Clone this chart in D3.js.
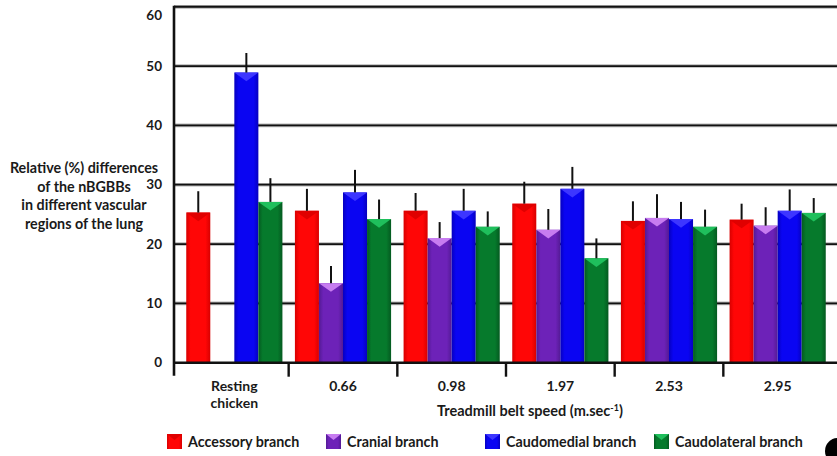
<!DOCTYPE html>
<html>
<head>
<meta charset="utf-8">
<script src="https://cdn.jsdelivr.net/npm/d3@7"></script>
<style>
  html, body { margin: 0; padding: 0; background: #fff; }
  svg { display: block; }
  text { font-family: Lato, "Open Sans", sans-serif; font-weight: 700; fill: #1a1a1a; }
</style>
</head>
<body>
<svg id="chart" width="837" height="456"></svg>
<script>
// Treadmill belt speeds (first group is the resting bird)
const categories = ["Resting chicken", "0.66", "0.98", "1.97", "2.53", "2.95"];

// Relative (%) differences of the nBGBBs per vascular region, with error bars (+SD)
const accessory       = [25.3, 25.6, 25.6, 26.8, 23.9, 24.1];
const accessoryErr    = [3.6, 3.7, 3.0, 3.7, 3.3, 2.7];
const cranial         = [0, 13.4, 21.0, 22.4, 24.4, 23.1];
const cranialErr      = [0, 2.9, 2.7, 3.5, 4.0, 3.1];
const caudomedial     = [48.9, 28.7, 25.6, 29.3, 24.2, 25.6];
const caudomedialErr  = [3.3, 3.8, 3.7, 3.7, 2.9, 3.6];
const caudolateral    = [27.1, 24.2, 22.9, 17.6, 22.9, 25.25];
const caudolateralErr = [4.0, 3.3, 2.6, 3.35, 2.9, 2.5];

const seriesNames = ["Accessory branch", "Cranial branch", "Caudomedial branch", "Caudolateral branch"];
const yTicks = [0, 10, 20, 30, 40, 50, 60];

// face colour, edge shade, cap triangle colour
const palette = [
  { face: "#ff0606", edge: "#d80000", cap: "#e00000" },
  { face: "#6d22b8", edge: "#531a95", cap: "#c77cf0" },
  { face: "#0a05f2", edge: "#0600c0", cap: "#3d36ff" },
  { face: "#067a2c", edge: "#045a20", cap: "#1fbf5c" }
];

const series = [
  { name: seriesNames[0], values: accessory, errs: accessoryErr },
  { name: seriesNames[1], values: cranial, errs: cranialErr },
  { name: seriesNames[2], values: caudomedial, errs: caudomedialErr },
  { name: seriesNames[3], values: caudolateral, errs: caudolateralErr }
];

const svg = d3.select("#chart");
const W = 837;
const plotLeft = 174, plotTop = 6.7, plotBottom = 362.7;

const y = d3.scaleLinear().domain([0, 60]).range([plotBottom, plotTop]);
const x0 = d3.scaleBand().domain(categories).range([180, 832]).padding(0);
const groupW = x0.step() * 0.885;
const x1 = d3.scaleBand().domain(seriesNames)
  .range([(x0.step() - groupW) / 2, (x0.step() + groupW) / 2]).padding(0);

// horizontal shading for the pseudo-3D bars
const defs = svg.append("defs");
palette.forEach((p, i) => {
  const g = defs.append("linearGradient").attr("id", "bar" + i)
    .attr("x1", "0%").attr("x2", "100%").attr("y1", "0%").attr("y2", "0%");
  g.append("stop").attr("offset", "0%").attr("stop-color", p.edge);
  g.append("stop").attr("offset", "18%").attr("stop-color", p.face);
  g.append("stop").attr("offset", "80%").attr("stop-color", p.face);
  g.append("stop").attr("offset", "100%").attr("stop-color", p.edge);
});

// gridlines (with a soft grey halo)
const gridVals = yTicks.filter(v => v > 0);
const grid = svg.append("g");
grid.selectAll("line.halo").data(gridVals).join("line")
  .attr("x1", plotLeft).attr("x2", W).attr("y1", d => y(d)).attr("y2", d => y(d))
  .attr("stroke", "#b5b5b5").attr("stroke-width", 3.6);
grid.selectAll("line.core").data(gridVals).join("line")
  .attr("x1", plotLeft).attr("x2", W).attr("y1", d => y(d)).attr("y2", d => y(d))
  .attr("stroke", "#111").attr("stroke-width", 1.8);

// bars
const groups = svg.append("g").selectAll("g").data(categories).join("g")
  .attr("transform", d => `translate(${x0(d)},0)`);

groups.each(function(cat, ci) {
  const g = d3.select(this);
  series.forEach((s, si) => {
    const v = s.values[ci];
    if (!v) return;
    const bx = x1(s.name), bw = x1.bandwidth();
    const top = y(v), h = y(0) - top;
    g.append("rect").attr("x", bx).attr("y", top).attr("width", bw).attr("height", h)
      .attr("fill", `url(#bar${si})`);
    const th = Math.min(bw * 0.36, h);
    g.append("polygon")
      .attr("points", `${bx},${top} ${bx + bw},${top} ${bx + bw / 2},${top + th}`)
      .attr("fill", palette[si].cap);
    // error bar
    g.append("line").attr("x1", bx + bw / 2).attr("x2", bx + bw / 2)
      .attr("y1", top).attr("y2", y(v + s.errs[ci]))
      .attr("stroke", "#111").attr("stroke-width", 2);
  });
});

// x axis line and category tick marks
svg.append("line").attr("x1", plotLeft).attr("x2", W).attr("y1", y(0)).attr("y2", y(0))
  .attr("stroke", "#111").attr("stroke-width", 2.4);
svg.append("g").selectAll("line").data(categories.slice(1)).join("line")
  .attr("x1", d => x0(d)).attr("x2", d => x0(d))
  .attr("y1", y(0)).attr("y2", y(0) + 14)
  .attr("stroke", "#111").attr("stroke-width", 2.4);

// top border
svg.append("line").attr("x1", plotLeft).attr("x2", W).attr("y1", plotTop).attr("y2", plotTop)
  .attr("stroke", "#b5b5b5").attr("stroke-width", 3.6);
svg.append("line").attr("x1", plotLeft).attr("x2", W).attr("y1", plotTop).attr("y2", plotTop)
  .attr("stroke", "#111").attr("stroke-width", 2);

// y axis line
svg.append("line").attr("x1", plotLeft).attr("x2", plotLeft).attr("y1", plotTop - 1).attr("y2", y(0) + 13)
  .attr("stroke", "#111").attr("stroke-width", 2.6);

// y tick labels
svg.append("g").selectAll("text").data(yTicks).join("text")
  .attr("x", 162).attr("y", d => d === 60 ? y(d) + 8.5 : y(d))
  .attr("dy", "0.35em").attr("text-anchor", "end")
  .style("font-size", "13.5px").text(d => d);

// category labels
svg.append("g").selectAll("text").data(categories).join("text")
  .attr("text-anchor", "middle").style("font-size", "14px")
  .attr("transform", d => `translate(${x0(d) + x0.bandwidth() / 2},391)`)
  .each(function(d) {
    const parts = d.split(" ");
    d3.select(this).selectAll("tspan").data(parts).join("tspan")
      .attr("x", 0).attr("dy", (p, i) => i === 0 ? 0 : 17).text(p => p);
  });

// x axis title
const xt = svg.append("text").attr("x", 530).attr("y", 416).attr("text-anchor", "middle")
  .style("font-size", "14.5px");
xt.append("tspan").text("Treadmill belt speed (m.sec");
xt.append("tspan").attr("dy", -5).style("font-size", "9px").text("-1");
xt.append("tspan").attr("dy", 5).text(")");

// y axis title
const yTitle = ["Relative (%) differences", "of the nBGBBs", "in different vascular", "regions of the lung"];
svg.append("g").selectAll("text").data(yTitle).join("text")
  .attr("x", 84).attr("y", (d, i) => 168 + i * 18.7).attr("dy", "0.35em")
  .attr("text-anchor", "middle").style("font-size", "14.3px").text(d => d);

// legend
const legendX = [167, 326, 485, 654];
const legend = svg.append("g").selectAll("g").data(series).join("g")
  .attr("transform", (d, i) => `translate(${legendX[i]},434)`);
legend.append("rect").attr("width", 15).attr("height", 15)
  .attr("fill", (d, i) => `url(#bar${i})`);
legend.append("polygon").attr("points", "0,0 15,0 7.5,6")
  .attr("fill", (d, i) => palette[i].cap);
legend.append("text").attr("x", 21).attr("y", 7.5).attr("dy", "0.35em")
  .style("font-size", "14.3px").text(d => d.name);

// panel badge in the corner
svg.append("circle").attr("cx", 838).attr("cy", 451).attr("r", 13).attr("fill", "#000");
</script>
</body>
</html>
